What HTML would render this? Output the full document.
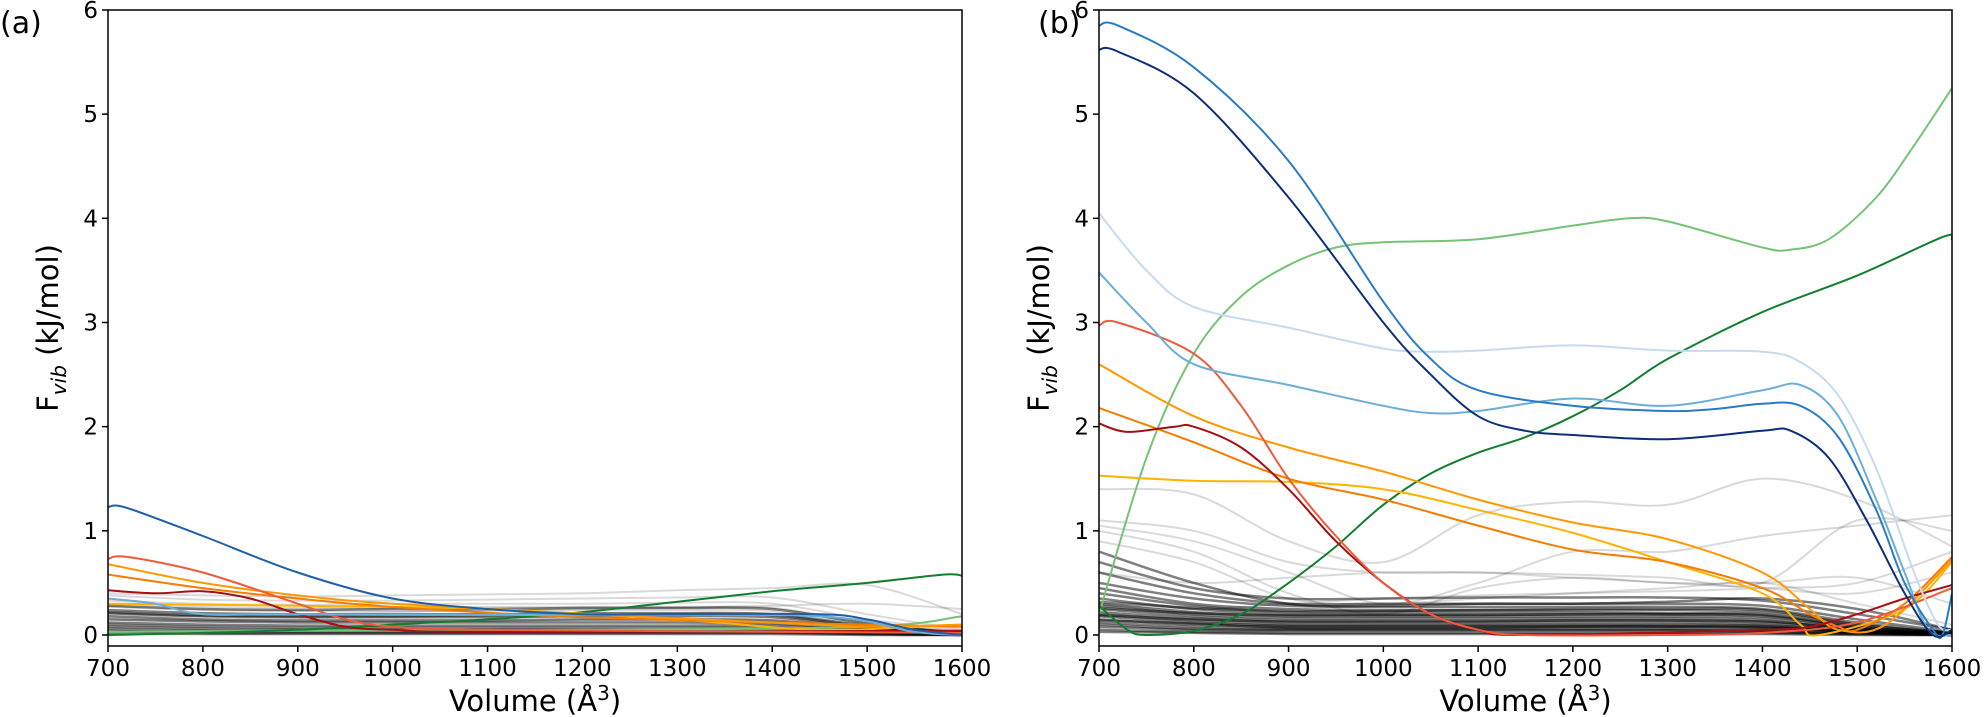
<!DOCTYPE html>
<html><head><meta charset="utf-8"><style>
html,body{margin:0;padding:0;background:#fff;}
svg{display:block;font-family:"DejaVu Sans","Liberation Sans",sans-serif;}
</style></head><body>
<svg id="chart" width="1985" height="717" viewBox="0 0 1985 717"></svg>
<script>
const xTicks=[700,800,900,1000,1100,1200,1300,1400,1500,1600];
const yTicks=[0,1,2,3,4,5,6];
const grid=[700,800,900,1000,1100,1200,1300,1400,1500,1600];
const grayB=[
[1.4,1.35,0.9,0.7,1.15,1.28,1.25,1.5,1.3,0.85],
[1.1,1.0,0.7,0.6,0.6,0.58,0.55,0.5,1.1,1.0],
[1.05,0.9,0.6,0.3,0.5,0.8,0.8,0.95,1.05,1.15],
[1.0,0.8,0.4,0.2,0.45,0.55,0.5,0.5,0.55,0.3],
[0.9,0.7,0.35,0.3,0.35,0.4,0.45,0.5,0.3,0.1],
[0.8,0.5,0.3,0.28,0.3,0.3,0.32,0.35,0.25,0.05],
[0.7,0.45,0.35,0.35,0.36,0.36,0.36,0.33,0.2,0.05],
[0.6,0.4,0.3,0.3,0.3,0.3,0.3,0.28,0.15,0.03],
[0.5,0.35,0.28,0.27,0.27,0.27,0.27,0.25,0.12,0.02],
[0.45,0.3,0.25,0.24,0.24,0.24,0.24,0.22,0.1,0.02],
[0.4,0.28,0.22,0.22,0.22,0.22,0.21,0.2,0.08,0.02],
[0.35,0.25,0.2,0.2,0.2,0.2,0.2,0.18,0.07,0.01],
[0.3,0.22,0.18,0.18,0.18,0.18,0.18,0.16,0.06,0.01],
[0.28,0.2,0.16,0.16,0.16,0.16,0.16,0.14,0.05,0.01],
[0.25,0.18,0.14,0.14,0.14,0.14,0.14,0.12,0.05,0.01],
[0.22,0.16,0.12,0.12,0.12,0.12,0.12,0.1,0.04,0.01],
[0.2,0.14,0.1,0.1,0.1,0.1,0.1,0.09,0.04,0.01],
[0.18,0.12,0.09,0.09,0.09,0.09,0.09,0.08,0.03,0.01],
[0.15,0.1,0.08,0.08,0.08,0.08,0.08,0.07,0.03,0.01],
[0.12,0.08,0.06,0.06,0.06,0.06,0.06,0.05,0.02,0.0],
[0.1,0.06,0.05,0.05,0.05,0.05,0.05,0.04,0.02,0.0],
[0.08,0.05,0.04,0.04,0.04,0.04,0.04,0.03,0.01,0.0],
[0.05,0.03,0.02,0.02,0.02,0.02,0.02,0.02,0.01,0.0],
[0.03,0.02,0.01,0.01,0.01,0.01,0.01,0.01,0.0,0.0],
[0.32,0.26,0.23,0.23,0.24,0.25,0.25,0.24,0.1,0.02],
[0.26,0.21,0.19,0.19,0.19,0.2,0.2,0.19,0.08,0.01],
[0.19,0.15,0.13,0.13,0.13,0.14,0.14,0.13,0.06,0.01],
[0.14,0.11,0.07,0.07,0.07,0.08,0.08,0.07,0.03,0.0],
[0.6,0.5,0.55,0.6,0.6,0.55,0.5,0.45,0.4,0.6],
[0.3,0.25,0.3,0.35,0.38,0.4,0.42,0.45,0.5,0.8]
];
const grayA=[
[0.4,0.38,0.37,0.38,0.39,0.4,0.43,0.45,0.48,0.2],
[0.38,0.34,0.33,0.33,0.34,0.35,0.36,0.36,0.2,0.05],
[0.33,0.3,0.29,0.3,0.3,0.3,0.31,0.3,0.15,0.04],
[0.3,0.27,0.26,0.26,0.27,0.27,0.27,0.26,0.12,0.03],
[0.27,0.24,0.23,0.23,0.23,0.24,0.24,0.23,0.1,0.03],
[0.24,0.21,0.2,0.2,0.2,0.21,0.21,0.2,0.09,0.02],
[0.21,0.18,0.17,0.17,0.17,0.18,0.18,0.17,0.07,0.02],
[0.18,0.15,0.14,0.14,0.14,0.15,0.15,0.14,0.06,0.01],
[0.15,0.13,0.12,0.12,0.12,0.12,0.12,0.11,0.05,0.01],
[0.12,0.1,0.09,0.09,0.09,0.09,0.09,0.09,0.04,0.01],
[0.1,0.08,0.07,0.07,0.07,0.07,0.07,0.07,0.03,0.01],
[0.08,0.06,0.05,0.05,0.05,0.05,0.05,0.05,0.02,0.0],
[0.06,0.04,0.03,0.03,0.03,0.03,0.03,0.03,0.01,0.0],
[0.04,0.02,0.02,0.02,0.02,0.02,0.02,0.02,0.01,0.0],
[0.02,0.01,0.01,0.01,0.01,0.01,0.01,0.01,0.0,0.0],
[0.28,0.25,0.24,0.25,0.25,0.26,0.26,0.25,0.11,0.02],
[0.22,0.19,0.18,0.18,0.19,0.19,0.2,0.19,0.08,0.02],
[0.16,0.14,0.13,0.13,0.13,0.14,0.14,0.13,0.06,0.01],
[0.2,0.18,0.2,0.22,0.24,0.25,0.26,0.28,0.3,0.25]
];
const bBlueV=[700,720,800,900,1000,1050,1100,1200,1300,1350,1400,1440,1480,1520,1550,1580,1590,1600];
const bBlueY=[5.85,5.85,5.45,4.55,3.2,2.65,2.35,2.2,2.15,2.17,2.22,2.2,1.9,1.2,0.5,0.05,0.0,0.4];
const bNavyV=[700,720,800,900,1000,1050,1100,1150,1200,1300,1400,1430,1470,1510,1550,1580,1600];
const bNavyY=[5.62,5.6,5.2,4.2,3.0,2.5,2.1,1.96,1.92,1.88,1.96,1.96,1.7,1.1,0.4,0.0,0.05];
const bPaleV=[700,750,800,900,1000,1050,1100,1200,1300,1400,1440,1480,1520,1560,1585,1600];
const bPaleY=[4.05,3.5,3.15,2.95,2.75,2.72,2.73,2.78,2.73,2.72,2.62,2.3,1.6,0.6,0.1,0.05];
const bLBlueV=[700,750,800,900,1000,1050,1100,1200,1300,1400,1440,1480,1520,1550,1575,1600];
const bLBlueY=[3.48,3.0,2.6,2.4,2.2,2.13,2.15,2.27,2.2,2.35,2.4,2.1,1.3,0.6,0.05,0.0];
const bLGreenV=[700,750,800,850,900,950,1000,1100,1200,1260,1300,1400,1430,1470,1520,1560,1600];
const bLGreenY=[0.2,1.7,2.7,3.25,3.55,3.72,3.77,3.8,3.93,4.0,3.97,3.72,3.7,3.8,4.2,4.7,5.25];
const bDGreenV=[700,730,750,800,850,900,950,1000,1050,1100,1150,1200,1250,1300,1400,1500,1590,1600];
const bDGreenY=[0.28,0.05,0.0,0.04,0.2,0.5,0.85,1.25,1.55,1.75,1.9,2.1,2.35,2.65,3.1,3.45,3.82,3.8];
const bRedV=[700,720,800,850,900,950,1000,1050,1100,1150,1300,1400,1500,1600];
const bRedY=[2.97,3.0,2.7,2.2,1.5,0.95,0.5,0.2,0.05,0.0,0.0,0.02,0.12,0.45];
const bDRedV=[700,730,780,800,850,900,950,1000,1050,1100,1150,1400,1450,1500,1550,1600];
const bDRedY=[2.03,1.95,2.0,2.0,1.8,1.4,0.9,0.5,0.2,0.05,0.0,0.05,0.08,0.2,0.35,0.48];
const bOrgV=[700,800,900,1000,1100,1200,1300,1400,1450,1480,1500,1550,1600];
const bOrgY=[2.18,1.85,1.5,1.3,1.05,0.82,0.7,0.45,0.2,0.08,0.05,0.3,0.75];
const bOrg2V=[700,800,900,1000,1100,1200,1300,1400,1450,1480,1530,1600];
const bOrg2Y=[2.6,2.1,1.8,1.57,1.3,1.08,0.92,0.6,0.25,0.05,0.1,0.72];
const bYelV=[700,800,900,1000,1100,1200,1300,1400,1440,1460,1550,1600];
const bYelY=[1.53,1.48,1.47,1.4,1.2,0.98,0.7,0.4,0.1,0.0,0.25,0.7];
const aBlueV=[700,720,800,900,1000,1100,1200,1300,1450,1500,1550,1600];
const aBlueY=[1.23,1.22,0.95,0.6,0.35,0.25,0.2,0.2,0.2,0.15,0.05,0.0];
const aLBlueV=[700,750,800,900,1200,1450,1550,1600];
const aLBlueY=[0.35,0.3,0.2,0.2,0.19,0.18,0.03,0.0];
const aRedV=[700,720,800,900,950,1000,1100,1600];
const aRedY=[0.73,0.75,0.6,0.3,0.15,0.08,0.05,0.02];
const aDRedV=[700,750,800,850,900,950,1000,1100,1600];
const aDRedY=[0.43,0.4,0.42,0.35,0.2,0.08,0.05,0.03,0.04];
const aOrgV=[700,800,900,1000,1200,1400,1500,1600];
const aOrgY=[0.68,0.5,0.38,0.3,0.2,0.12,0.08,0.1];
const aOrg2V=[700,800,900,1000,1200,1500,1600];
const aOrg2Y=[0.58,0.45,0.35,0.27,0.17,0.1,0.08];
const aYelV=[700,900,1100,1300,1450,1600];
const aYelY=[0.3,0.28,0.25,0.15,0.05,0.1];
const aDGreenV=[700,800,900,1000,1100,1200,1300,1400,1500,1580,1600];
const aDGreenY=[0.0,0.02,0.05,0.1,0.15,0.22,0.32,0.42,0.5,0.58,0.57];
const aLGreenV=[700,900,1200,1500,1600];
const aLGreenY=[0.03,0.04,0.05,0.08,0.18];

const NS="http://www.w3.org/2000/svg";
const svg=document.getElementById('chart');
const T=10,B=646,Y0=635,PU=104.17;
function mk(tag,attrs,parent){const e=document.createElementNS(NS,tag);for(const k in attrs)e.setAttribute(k,attrs[k]);(parent||svg).appendChild(e);return e;}
function path(xs,ys,sx,sy){
  const p=xs.map((x,i)=>[sx(x),sy(ys[i])]);
  let d="M"+p[0][0].toFixed(1)+","+p[0][1].toFixed(1);
  for(let i=0;i<p.length-1;i++){
    const p0=p[i-1]||p[i],p1=p[i],p2=p[i+1],p3=p[i+2]||p[i+1];
    const c1=[p1[0]+(p2[0]-p0[0])/6,p1[1]+(p2[1]-p0[1])/6];
    const c2=[p2[0]-(p3[0]-p1[0])/6,p2[1]-(p3[1]-p1[1])/6];
    d+=`C${c1[0].toFixed(1)},${c1[1].toFixed(1)} ${c2[0].toFixed(1)},${c2[1].toFixed(1)} ${p2[0].toFixed(1)},${p2[1].toFixed(1)}`;
  }
  return d;
}
function panel(L,R,label,lx,grays,series,pname){
  const g=mk('g',{});
  
  
  const sx=v=>L+(v-700)/900*(R-L);
  const sy=v=>Y0-v*PU;
  const cid='clip'+pname;
  const cp=mk('clipPath',{id:cid},g);mk('rect',{x:L,y:T,width:R-L,height:B-T},cp);
  const lines=mk('g',{'clip-path':`url(#${cid})`},g);
  grays.forEach((vals,i)=>{
    const light=i<5||i>=grays.length-2;
    const e=mk('path',{d:path(grid,vals,sx,sy),fill:'none',stroke:light?'rgba(0,0,0,0.15)':'rgba(0,0,0,0.5)','stroke-width':light?2:2.5},lines);
    
    
  });
  series.forEach(s=>{
    const e=mk('path',{d:path(s[0],s[1],sx,sy),fill:'none',stroke:s[2],'stroke-width':2},lines);
    
    
  });
  const fr=mk('rect',{x:L,y:T,width:R-L,height:B-T,fill:'none',stroke:'#000','stroke-width':1.5},g);
  
  
  xTicks.forEach(v=>{
    mk('line',{x1:sx(v),x2:sx(v),y1:B,y2:B+6,stroke:'#000','stroke-width':1.5},g);
    const t=mk('text',{x:sx(v),y:676,'text-anchor':'middle','font-size':23},g);t.textContent=v;
    
    
  });
  yTicks.forEach(v=>{
    mk('line',{x1:L-6,x2:L,y1:sy(v),y2:sy(v),stroke:'#000','stroke-width':1.5},g);
    const t=mk('text',{x:L-10,y:sy(v)+8,'text-anchor':'end','font-size':23},g);t.textContent=v;
    
    
  });
  const xl=mk('text',{x:(L+R)/2,y:711,'text-anchor':'middle','font-size':29},g);
  xl.innerHTML='Volume (Å<tspan dy="-11" font-size="20">3</tspan><tspan dy="11">)</tspan>';
  
  
  const cx=L-50,cy=(T+B)/2;
  const yl=mk('text',{x:cx,y:cy,'text-anchor':'middle','font-size':29,transform:`rotate(-90 ${cx} ${cy})`},g);
  yl.innerHTML='F<tspan dy="8" font-size="20" font-style="italic">vib</tspan><tspan dy="-8">  (kJ/mol)</tspan>';
  
  
  const pl=mk('text',{x:lx,y:33,'font-size':30},g);pl.textContent=label;
  
  
}
panel(108,962,'(a)',0,grayA,[
 [aLGreenV,aLGreenY,'#74c476','light-green-curve'],
 [aDGreenV,aDGreenY,'#137d31','dark-green-curve'],
 [aYelV,aYelY,'#ffb300','yellow-curve'],
 [aOrg2V,aOrg2Y,'#f57c00','orange-curve-2'],
 [aOrgV,aOrgY,'#ff9800','orange-curve'],
 [aDRedV,aDRedY,'#a50f15','dark-red-curve'],
 [aRedV,aRedY,'#ef5a3c','red-curve'],
 [aLBlueV,aLBlueY,'#6baed6','light-blue-curve'],
 [aBlueV,aBlueY,'#1f5fa8','blue-curve']
],'panel-a');
panel(1099,1952,'(b)',1038,grayB,[
 [bLGreenV,bLGreenY,'#74c476','light-green-curve'],
 [bDGreenV,bDGreenY,'#137d31','dark-green-curve'],
 [bYelV,bYelY,'#ffb300','yellow-curve'],
 [bOrgV,bOrgY,'#f57c00','orange-curve'],
 [bOrg2V,bOrg2Y,'#ff9800','orange-curve-2'],
 [bDRedV,bDRedY,'#a50f15','dark-red-curve'],
 [bRedV,bRedY,'#ef5a3c','red-curve'],
 [bPaleV,bPaleY,'#c6dbef','pale-blue-curve'],
 [bLBlueV,bLBlueY,'#6baed6','light-blue-curve'],
 [bBlueV,bBlueY,'#2b7bc4','blue-curve'],
 [bNavyV,bNavyY,'#0d2f7a','navy-curve']
],'panel-b');
</script>
</body></html>
